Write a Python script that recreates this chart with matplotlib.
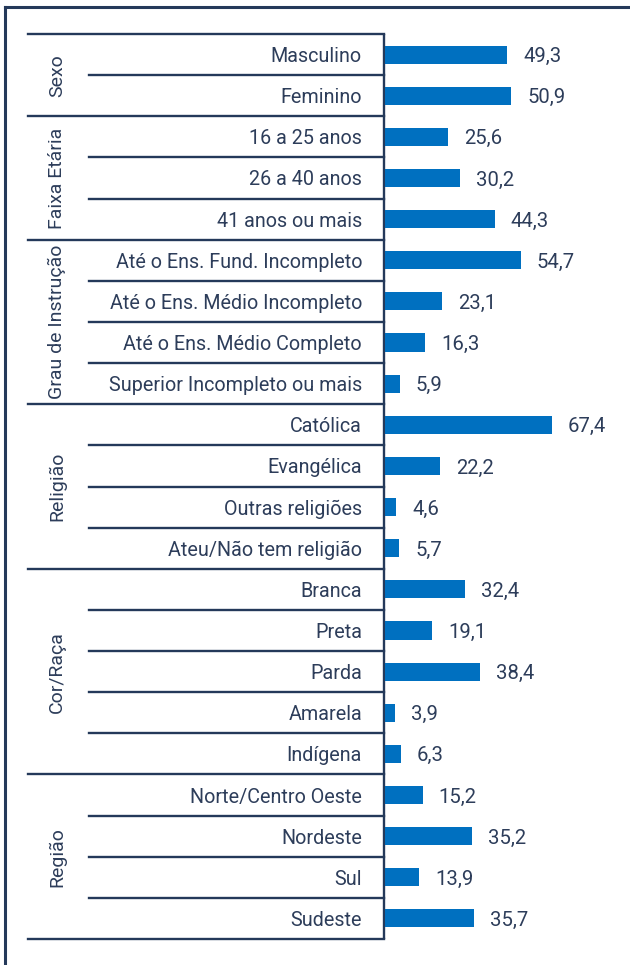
import matplotlib.pyplot as plt
from matplotlib.lines import Line2D

# survey breakdown (%), grouped by profile variable
groups = ["Sexo", "Faixa Etária", "Grau de Instrução", "Religião", "Cor/Raça", "Região"]
sexo = ["Masculino", "Feminino"]
sexo_vals = [49.3, 50.9]
idade = ["16 a 25 anos", "26 a 40 anos", "41 anos ou mais"]
idade_vals = [25.6, 30.2, 44.3]
instrucao = ["Até o Ens. Fund. Incompleto", "Até o Ens. Médio Incompleto",
             "Até o Ens. Médio Completo", "Superior Incompleto ou mais"]
instrucao_vals = [54.7, 23.1, 16.3, 5.9]
religiao = ["Católica", "Evangélica", "Outras religiões", "Ateu/Não tem religião"]
religiao_vals = [67.4, 22.2, 4.6, 5.7]
cor = ["Branca", "Preta", "Parda", "Amarela", "Indígena"]
cor_vals = [32.4, 19.1, 38.4, 3.9, 6.3]
regiao = ["Norte/Centro Oeste", "Nordeste", "Sul", "Sudeste"]
regiao_vals = [15.2, 35.2, 13.9, 35.7]

cats = [sexo, idade, instrucao, religiao, cor, regiao]
vals = [sexo_vals, idade_vals, instrucao_vals, religiao_vals, cor_vals, regiao_vals]

labels = [c for grp in cats for c in grp]
values = [v for grp in vals for v in grp]
n = len(labels)

plt.rcParams['font.family'] = ['Roboto', 'DejaVu Sans']
BAR = '#0070C0'
INK = '#24395A'
TXT = '#2D3D5A'

W, H = 630, 965
top_px, bot_px = 34, 939
div_px = 384

fig = plt.figure(figsize=(W / 100, H / 100), dpi=100)
ax_h = (bot_px - top_px) / H
ax_y = (H - bot_px) / H

# left part: category table
tab = fig.add_axes([0, ax_y, div_px / W, ax_h])
tab.set_xlim(0, div_px)
tab.set_ylim(n - 0.5, -0.5)
tab.axis('off')

# right part: bars
ax = fig.add_axes([(div_px + 1) / W, ax_y, (W - div_px - 1) / W, ax_h])
px_per_unit = 2.48
ax.set_xlim(0, (W - div_px - 1) / px_per_unit)
ax.set_ylim(n - 0.5, -0.5)
ax.axis('off')

ypos = list(range(n))
ax.barh(ypos, values, height=0.44, color=BAR)
for y, v in zip(ypos, values):
    ax.annotate(f"{v:.1f}".replace('.', ','), (v, y), xytext=(11.5, 0),
                textcoords='offset points', va='center_baseline', ha='left',
                fontsize=14.6, color=TXT)

for y, lab in zip(ypos, labels):
    tab.text(362, y, lab, ha='right', va='center_baseline', fontsize=14.2, color=TXT)

# grid lines of the table
lw = 1.7
start = 0
tab.plot([div_px, div_px], [-0.5, n - 0.5], color=INK, lw=lw, solid_capstyle='butt', clip_on=False)
tab.plot([28, div_px], [-0.5, -0.5], color=INK, lw=lw, clip_on=False)
for g, grp in zip(groups, cats):
    k = len(grp)
    for i in range(1, k):
        tab.plot([89, div_px], [start + i - 0.5] * 2, color=INK, lw=lw, clip_on=False)
    end = start + k - 0.5
    tab.plot([28, div_px], [end, end], color=INK, lw=lw, clip_on=False)
    tab.text(57, start + (k - 1) / 2, g, rotation=90, ha='center', va='center',
             fontsize=14, color=TXT)
    start += k

# outer frame
fig.add_artist(Line2D([4.5 / W, 4.5 / W], [0, 1 - 7 / H], color=INK, lw=2.2,
                      transform=fig.transFigure))
fig.add_artist(Line2D([4.5 / W, 1], [1 - 7 / H, 1 - 7 / H], color=INK, lw=2.2,
                      transform=fig.transFigure))

fig.savefig('out.png', dpi=100, facecolor='white')
